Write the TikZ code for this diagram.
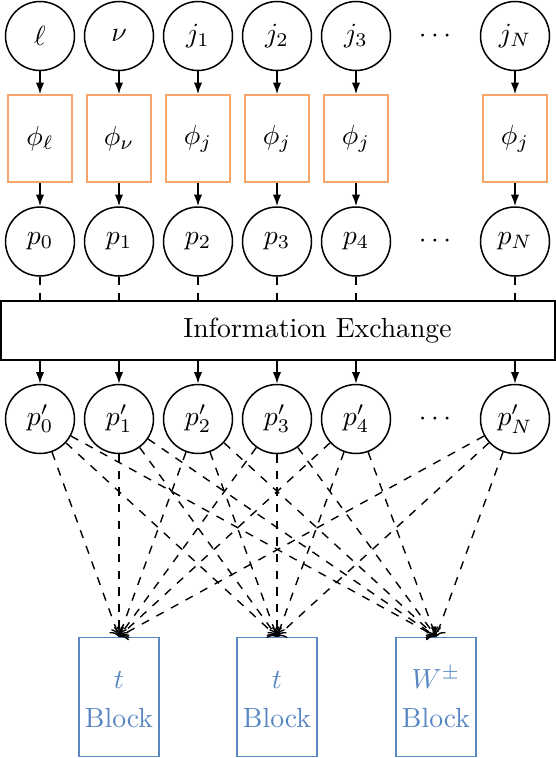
\documentclass[tikz,border=0pt]{standalone}
\usetikzlibrary{arrows.meta}
\definecolor{borange}{RGB}{247,165,104}
\definecolor{bblue}{RGB}{88,135,195}
\begin{document}
\begin{tikzpicture}[x=0.361pt,y=-0.361pt,
  circ/.style={circle,draw,line width=0.55pt,minimum size=24.9pt,inner sep=0pt},
  phibox/.style={draw=borange,line width=0.55pt,minimum width=23.1pt,minimum height=31.4pt,inner sep=0pt},
  blockbox/.style={draw=bblue,text=bblue,line width=0.55pt,minimum width=28.9pt,minimum height=43pt,align=center,inner sep=0pt},
  infobox/.style={draw,line width=0.55pt,minimum width=200pt,minimum height=21.3pt,inner sep=0pt},
  arr/.style={-{Latex[length=4.2pt,width=3pt]},line width=0.55pt},
  darr/.style={dashed,->,line width=0.5pt},
  dline/.style={dashed,line width=0.5pt}]
\useasboundingbox (0,0) rectangle (556,758);

% top row
\node[circ] (t0) at (40,36) {$\ell$};
\node[circ] (t1) at (119,36) {$\nu$};
\node[circ] (t2) at (198,36) {$j_1$};
\node[circ] (t3) at (277,36) {$j_2$};
\node[circ] (t4) at (356,36) {$j_3$};
\node (td) at (435,36) {$\cdots$};
\node[circ] (tN) at (515,36) {$j_N$};

% phi boxes
\node[phibox] (f0) at (40,138.5) {$\phi_\ell$};
\node[phibox] (f1) at (119,138.5) {$\phi_\nu$};
\node[phibox] (f2) at (198,138.5) {$\phi_j$};
\node[phibox] (f3) at (277,138.5) {$\phi_j$};
\node[phibox] (f4) at (356,138.5) {$\phi_j$};
\node[phibox] (fN) at (515,138.5) {$\phi_j$};

% p row
\node[circ] (p0) at (40,241.5) {$p_0$};
\node[circ] (p1) at (119,241.5) {$p_1$};
\node[circ] (p2) at (198,241.5) {$p_2$};
\node[circ] (p3) at (277,241.5) {$p_3$};
\node[circ] (p4) at (356,241.5) {$p_4$};
\node (pd) at (435,241.5) {$\cdots$};
\node[circ] (pN) at (515,241.5) {$p_N$};

% information exchange
\node[infobox] (info) at (278,330.5) {\hspace*{28.5pt}Information Exchange};

% p' row
\node[circ] (q0) at (40,419) {$p'_0$};
\node[circ] (q1) at (119,419) {$p'_1$};
\node[circ] (q2) at (198,419) {$p'_2$};
\node[circ] (q3) at (277,419) {$p'_3$};
\node[circ] (q4) at (356,419) {$p'_4$};
\node (qd) at (435,419) {$\cdots$};
\node[circ] (qN) at (515,419) {$p'_N$};

% blocks
\node[blockbox] (b1) at (119,697) {$\vphantom{W^\pm}t$\\[2.3pt]Block};
\node[blockbox] (b2) at (277,697) {$\vphantom{W^\pm}t$\\[2.3pt]Block};
\node[blockbox] (b3) at (436,697) {$W^\pm$\\[2.3pt]Block};

% connectors
\foreach \i in {0,1,2,3,4,N}{
  \draw[arr] (t\i) -- (f\i);
  \draw[arr] (f\i) -- (p\i);
  \draw[dline] (p\i) -- (info.north -| p\i);
  \draw[arr] (info.south -| q\i) -- (q\i);
  \foreach \b in {b1,b2,b3}{
    \draw[darr] (q\i) -- (\b.north);
  }
}
\end{tikzpicture}
\end{document}
